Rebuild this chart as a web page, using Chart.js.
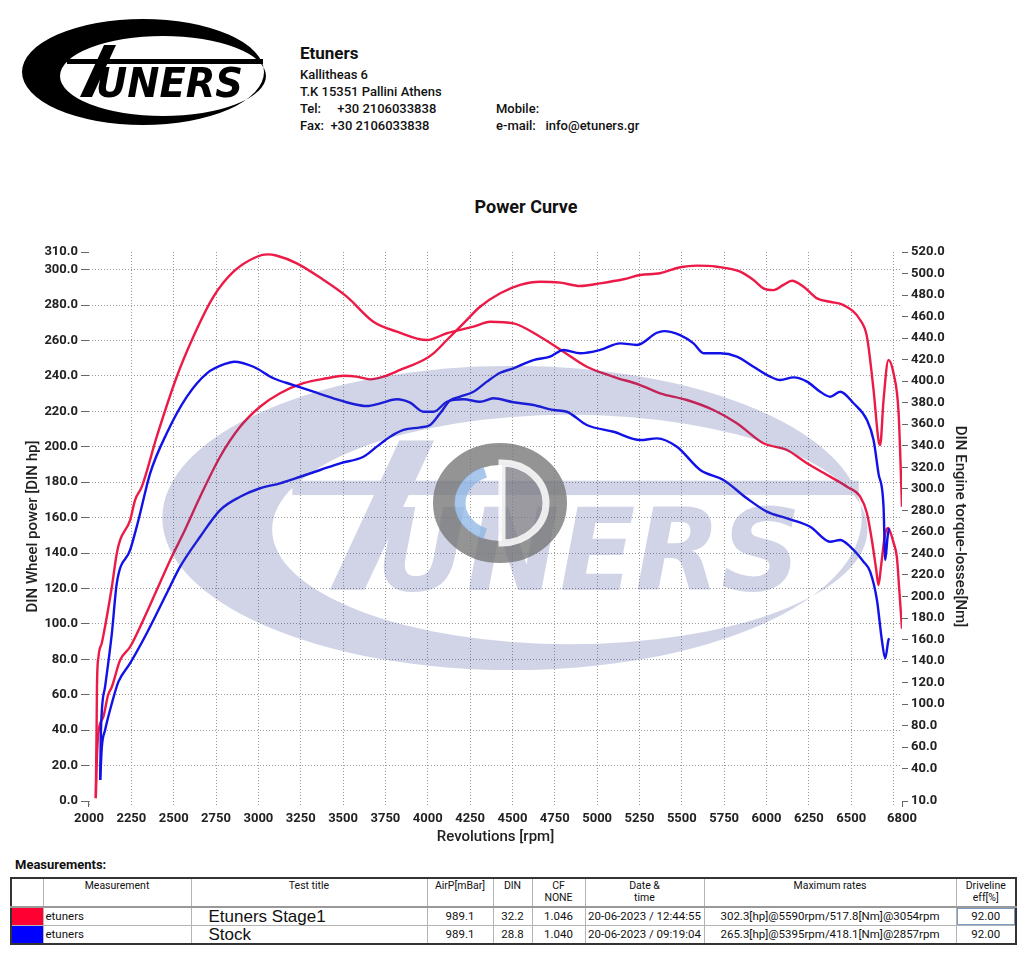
<!DOCTYPE html>
<html>
<head>
<meta charset="utf-8">
<title>Power Curve</title>
<script src="https://cdn.jsdelivr.net/npm/chart.js@4/dist/chart.umd.min.js"></script>
<style>
  body { margin: 0; background: #fff; font-family: Roboto, "DejaVu Sans", sans-serif; color: #111; }
  #page { position: relative; width: 1024px; height: 956px; overflow: hidden; }
  .abs { position: absolute; white-space: pre; }
  .info { font-size: 13px; font-weight: 500; line-height: 16px; }
  #chartTitle { left: 0; width: 1052px; top: 196px; text-align: center; font-size: 18px; font-weight: bold; }
  #measLabel { left: 15px; top: 857px; font-size: 13px; font-weight: bold; }
  table { position: absolute; left: 10px; top: 877px; border-collapse: collapse; table-layout: fixed;
          border: 2px solid #333; font-size: 11.5px; }
  td { border: 1px solid #b4b4b4; padding: 0 2px; white-space: nowrap; overflow: hidden; }
  tr.head td { height: 26px; vertical-align: top; text-align: center; font-size: 10.5px; line-height: 12px; padding-top: 1px;
               border-bottom: 2px solid #999; }
  tr.run td { height: 17px; line-height: 17px; text-align: center; }
  tr.run td.name { text-align: left; }
  tr.run td.title { text-align: left; padding-left: 17px; font-family: "Liberation Sans", Arial, sans-serif; font-size: 17px; }
</style>
</head>
<body>
<div id="page">
  <canvas id="logo" width="290" height="150" style="position:absolute;left:0;top:0"></canvas>
  <div class="abs" style="left:300px;top:43px;font-size:17px;font-weight:bold">Etuners</div>
  <div class="abs info" style="left:300px;top:67px">Kallitheas 6</div>
  <div class="abs info" style="left:300px;top:84px">T.K 15351 Pallini Athens</div>
  <div class="abs info" style="left:300px;top:101px">Tel:     +30 2106033838</div>
  <div class="abs info" style="left:300px;top:118px">Fax:  +30 2106033838</div>
  <div class="abs info" style="left:496px;top:101px">Mobile:</div>
  <div class="abs info" style="left:496px;top:118px">e-mail:   info@etuners.gr</div>

  <div class="abs" id="chartTitle">Power Curve</div>
  <div style="position:absolute;left:0;top:180px;width:1024px;height:670px">
    <canvas id="chart" width="1024" height="670"></canvas>
  </div>

  <div class="abs" id="measLabel">Measurements:</div>
  <table id="meas">
    <colgroup>
      <col style="width:32px"><col style="width:148px"><col style="width:236px"><col style="width:66px">
      <col style="width:39px"><col style="width:53px"><col style="width:119px"><col style="width:252px"><col style="width:60px">
    </colgroup>
    <tbody id="measBody">
      <tr class="head">
        <td></td><td>Measurement</td><td>Test title</td><td>AirP[mBar]</td><td>DIN</td>
        <td>CF<br>NONE</td><td>Date &amp;<br>time</td><td>Maximum rates</td><td>Driveline<br>eff[%]</td>
      </tr>
    </tbody>
  </table>
</div>

<script>
// ---- data ----
const xTicks = [2000, 2250, 2500, 2750, 3000, 3250, 3500, 3750, 4000, 4250, 4500, 4750,
                5000, 5250, 5500, 5750, 6000, 6250, 6500, 6750, 6800];
const powerTicks = [0, 20, 40, 60, 80, 100, 120, 140, 160, 180, 200, 220, 240, 260, 280, 300, 310];
const torqueTicks = [10, 40, 60, 80, 100, 120, 140, 160, 180, 200, 220, 240, 260, 280, 300,
                     320, 340, 360, 380, 400, 420, 440, 460, 480, 500, 520];

const stage1PowerRpm = [2040, 2045, 2055, 2085, 2113, 2135, 2184, 2243, 2302, 2400, 2479, 2557, 2656, 2774, 2892,
  3010, 3128, 3266, 3404, 3502, 3581, 3660, 3738, 3837, 3975, 4034, 4113, 4211, 4309, 4428, 4546, 4663,
  4782, 4900, 5018, 5156, 5254, 5372, 5490, 5590, 5707, 5845, 5923, 5982, 6041, 6100, 6150, 6219, 6298,
  6376, 6455, 6553, 6593, 6632, 6661, 6671, 6691, 6720, 6750, 6780, 6800];
const stage1PowerHp = [1.5, 20, 38.4, 47.6, 60, 64.5, 79.6, 87.1, 98.4, 119.1, 136, 151.2, 171.8, 194.4, 211.3,
  222.6, 230.2, 235.9, 238.7, 240.1, 239.6, 238.1, 239.6, 243.4, 249.0, 252.8, 260.3, 269.7, 279.1, 286.7, 291.4, 293.2,
  292.7, 290.8, 292.3, 294.6, 297.0, 298.0, 301.4, 302.3, 301.7, 298.9, 294.2, 289.5, 288.5, 291.4, 293.8, 290.4, 283.8,
  281.9, 280.0, 271.6, 262.2, 232.1, 203.8, 201.0, 226.4, 249.0, 241.5, 218.9, 166.2];

const stage1TorqueRpm = [2040, 2045, 2047, 2056, 2076, 2105, 2135, 2164, 2184, 2243, 2272, 2312, 2400, 2518, 2616,
  2735, 2853, 2991, 3054, 3110, 3227, 3385, 3522, 3679, 3818, 3995, 4113, 4270, 4368, 4506, 4663, 4801,
  4939, 5097, 5254, 5372, 5530, 5687, 5825, 5982, 6121, 6239, 6376, 6475, 6553, 6593, 6622, 6648, 6661,
  6677, 6701, 6719, 6730, 6750, 6770, 6784, 6800];
const stage1TorqueNm = [12.8, 80, 116, 144, 157, 181, 209, 240, 252.5, 271, 289.6, 302, 348.4, 404.1, 441.3,
  478.5, 501.7, 515.6, 517.8, 516.5, 509.5, 494, 478.5, 455.2, 446, 438.2, 444.5, 450.6, 455.2, 453.7, 441.3, 427.4,
  413.4, 404.1, 396.4, 388.7, 382.5, 373.2, 360.9, 342.3, 336.1, 323.7, 311.3, 302, 292.7, 277.3, 252.5, 224.6, 210.6,
  229.2, 258.7, 263.6, 260.2, 250, 236, 206, 170];

const stockPowerRpm = [2066, 2076, 2095, 2135, 2174, 2243, 2341, 2459, 2538, 2656, 2774, 2892, 3010, 3128, 3247,
  3365, 3483, 3620, 3699, 3778, 3857, 3955, 4014, 4073, 4132, 4191, 4270, 4349, 4428, 4506, 4624, 4722,
  4801, 4900, 5018, 5136, 5235, 5353, 5395, 5490, 5569, 5629, 5727, 5825, 5923, 6022, 6081, 6160, 6239,
  6317, 6376, 6435, 6514, 6593, 6632, 6661, 6691, 6701, 6715, 6723];
const stockPowerHp = [11.9, 30.7, 40.1, 55.2, 67.4, 77.8, 94.7, 117.3, 132.3, 149.2, 164.3, 171.8, 176.6, 179.4, 183.1,
  186.9, 190.7, 194.4, 200.1, 205.7, 209.5, 211, 212.3, 218.9, 226.2, 228.3, 231.1, 236.8, 241.8, 244.3, 249, 250.9,
  254.7, 252.8, 254.7, 258.4, 257.5, 264.4, 265.3, 263.1, 258.4, 252.8, 252.8, 250.9, 245.2, 239.6, 237.7, 239.2, 236.8,
  231.1, 228.3, 231.1, 224.6, 215.1, 203.8, 185, 166.2, 136.1, 149.2, 154];

const stockTorqueRpm = [2066, 2070, 2095, 2135, 2164, 2243, 2292, 2361, 2459, 2578, 2696, 2814, 2857, 2971, 3089,
  3207, 3325, 3443, 3561, 3640, 3719, 3818, 3896, 3975, 4034, 4113, 4211, 4309, 4388, 4506, 4624, 4742,
  4821, 4939, 5097, 5254, 5353, 5471, 5609, 5746, 5884, 6002, 6121, 6258, 6376, 6435, 6494, 6573, 6612,
  6652, 6681, 6701, 6720, 6726];
const stockTorqueNm = [29.5, 73.2, 116.2, 165.8, 212.2, 243.2, 271, 314.4, 351.6, 385.6, 407.3, 416.6, 418.1, 413.4, 402.7,
  396.4, 390.2, 384.1, 378.8, 376.9, 379.4, 383.2, 380, 371.6, 371.6, 380.9, 383.2, 380.9, 384.1, 380.4, 377.9, 373.2,
  371.6, 359.3, 353, 345.3, 346.9, 339.1, 317.5, 308.2, 291.2, 278.8, 272.6, 264.8, 250.9, 252.5, 246.3, 232.3, 223,
  196.7, 159.6, 142.6, 159.6, 161.1];

// measurement table
const runColors = ['#ff0033', '#0000ff'];
const runNames = ['etuners', 'etuners'];
const runTitles = ['Etuners Stage1', 'Stock'];
const runAirP = ['989.1', '989.1'];
const runDin = ['32.2', '28.8'];
const runCf = ['1.046', '1.040'];
const runDates = ['20-06-2023 / 12:44:55', '20-06-2023 / 09:19:04'];
const runMax = ['302.3[hp]@5590rpm/517.8[Nm]@3054rpm', '265.3[hp]@5395rpm/418.1[Nm]@2857rpm'];
const runEff = ['92.00', '92.00'];

const RED = '#ec1a46';
const BLUE = '#1212e8';

const body = document.getElementById('measBody');
runNames.forEach((n, i) => {
  const tr = document.createElement('tr');
  tr.className = 'run';
  tr.innerHTML = `<td style="background:${runColors[i]}"></td><td class="name">${n}</td>` +
    `<td class="title">${runTitles[i]}</td><td>${runAirP[i]}</td><td>${runDin[i]}</td><td>${runCf[i]}</td>` +
    `<td>${runDates[i]}</td><td>${runMax[i]}</td>` +
    `<td${i === 0 ? ' style="outline:1px solid #7d9cc0;outline-offset:-2px"' : ''}>${runEff[i]}</td>`;
  body.appendChild(tr);
});

// etuners logo, drawn in its own 290x150 coordinates
function drawLogo(c) {
  c.beginPath();
  c.ellipse(143, 72, 121, 53, 0, 0, Math.PI * 2);
  c.ellipse(163, 76, 103, 40, 0, 0, Math.PI * 2);
  c.fill('evenodd');
  c.fillRect(67, 59, 196, 5);
  c.beginPath();
  c.moveTo(104, 45); c.lineTo(116, 45); c.lineTo(92, 97); c.lineTo(80, 97);
  c.closePath();
  c.fill();
  c.save();
  c.font = 'italic bold 40px "DejaVu Sans"';
  const w = c.measureText('UNERS').width;
  c.translate(96, 97);
  c.scale(147 / w, 1);
  c.fillText('UNERS', 0, 0);
  c.restore();
}
const lg = document.getElementById('logo').getContext('2d');
lg.fillStyle = '#000';
drawLogo(lg);

const pts = (xs, ys) => xs.map((x, i) => ({ x: x, y: ys[i] }));

// watermark laid over the plot (page coordinates, canvas sits at top 180)
const watermark = {
  id: 'watermark',
  afterDraw(chart) {
    const ctx = chart.ctx;
    const off = document.createElement('canvas');
    off.width = 1024; off.height = 956;
    const o = off.getContext('2d');
    o.fillStyle = 'rgb(58,72,150)';
    o.translate(512, 518);
    o.scale(2.89, 2.87);
    o.translate(-143, -72);
    drawLogo(o);

    ctx.save();
    ctx.translate(0, -180);
    ctx.globalAlpha = 0.23;
    ctx.drawImage(off, 0, 0);
    ctx.globalAlpha = 1;
    // round badge
    ctx.beginPath();
    ctx.ellipse(500, 503, 56, 49, 0, 0, Math.PI * 2);
    ctx.lineWidth = 22;
    ctx.strokeStyle = 'rgba(118,118,118,0.78)';
    ctx.stroke();
    ctx.beginPath();
    ctx.ellipse(500, 503, 40, 33, 0, Math.PI * 0.62, Math.PI * 1.38);
    ctx.lineWidth = 11;
    ctx.strokeStyle = 'rgba(140,180,228,0.75)';
    ctx.stroke();
    ctx.beginPath();
    ctx.moveTo(502, 463);
    ctx.ellipse(502, 503, 44, 40, 0, -Math.PI / 2, Math.PI / 2);
    ctx.closePath();
    ctx.fillStyle = 'rgba(120,120,128,0.75)';
    ctx.fill();
    ctx.lineWidth = 7;
    ctx.strokeStyle = 'rgba(255,255,255,0.85)';
    ctx.stroke();
    // little corner brackets at the axis ends
    ctx.strokeStyle = '#666';
    ctx.lineWidth = 1;
    ctx.beginPath();
    ctx.moveTo(88.5, 801); ctx.lineTo(88.5, 807);
    ctx.moveTo(902.5, 801); ctx.lineTo(902.5, 807);
    ctx.stroke();
    ctx.restore();
  }
};

const gridColor = '#9a9a9a';
const tickFont = { size: 13, weight: 'bold' };
const titleFont = { size: 15, weight: '500' };

new Chart(document.getElementById('chart'), {
  type: 'line',
  data: {
    datasets: [
      { label: 'Stock torque', data: pts(stockTorqueRpm, stockTorqueNm), yAxisID: 'yT', borderColor: BLUE },
      { label: 'Stock power', data: pts(stockPowerRpm, stockPowerHp), yAxisID: 'yP', borderColor: BLUE },
      { label: 'Stage1 torque', data: pts(stage1TorqueRpm, stage1TorqueNm), yAxisID: 'yT', borderColor: RED },
      { label: 'Stage1 power', data: pts(stage1PowerRpm, stage1PowerHp), yAxisID: 'yP', borderColor: RED }
    ]
  },
  options: {
    responsive: false,
    animation: false,
    parsing: false,
    layout: { padding: { top: 72, left: 0, right: 0, bottom: 0 } },
    datasets: {
      line: { borderWidth: 2.4, pointRadius: 0, cubicInterpolationMode: 'monotone', fill: false }
    },
    font: { family: 'Roboto' },
    scales: {
      x: {
        type: 'linear', min: 2000, max: 6800,
        afterBuildTicks(s) { s.ticks = xTicks.map(v => ({ value: v })); },
        afterFit(s) { s.height = 49; },
        ticks: {
          autoSkip: false, maxRotation: 0, padding: 5, color: '#222', font: tickFont,
          callback: v => (v === 6750 ? '' : String(v))
        },
        grid: {
          color: c => (c.tick && (c.tick.value === 2000 || c.tick.value === 6800)) ? 'rgba(0,0,0,0)' : gridColor,
          borderDash: [1, 2], tickLength: 5, tickBorderDash: [1, 2], tickColor: gridColor
        },
        border: { display: false, dash: [1, 2] },
        title: { display: true, text: 'Revolutions [rpm]', color: '#222', font: titleFont, padding: { top: 0, bottom: 4 } }
      },
      yP: {
        type: 'linear', position: 'left', min: 0, max: 310,
        afterBuildTicks(s) { s.ticks = powerTicks.map(v => ({ value: v })); },
        afterFit(s) { s.width = 89; },
        ticks: { autoSkip: false, padding: 3, color: '#222', font: tickFont, callback: v => v.toFixed(1) },
        grid: {
          color: c => (c.tick && (c.tick.value === 0 || c.tick.value === 310)) ? 'rgba(0,0,0,0)' : gridColor,
          borderDash: [1, 2], tickLength: 8, tickBorderDash: [], tickColor: '#666'
        },
        border: { display: false, dash: [1, 2] },
        title: { display: true, text: 'DIN Wheel power [DIN hp]', color: '#222', font: titleFont, padding: { top: 24, bottom: 0 } }
      },
      yT: {
        type: 'linear', position: 'right', min: 10, max: 520,
        afterBuildTicks(s) { s.ticks = torqueTicks.map(v => ({ value: v })); },
        afterFit(s) { s.width = 122; },
        ticks: { autoSkip: false, padding: 3, color: '#222', font: tickFont, callback: v => v.toFixed(1) },
        grid: { drawOnChartArea: false, tickLength: 6, tickBorderDash: [], tickColor: '#666' },
        border: { display: false },
        title: { display: true, text: 'DIN Engine torque-losses[Nm]', color: '#222', font: titleFont, padding: { top: 55, bottom: 0 } }
      }
    },
    plugins: {
      legend: { display: false },
      tooltip: { enabled: false }
    }
  },
  plugins: [watermark]
});
</script>
</body>
</html>
